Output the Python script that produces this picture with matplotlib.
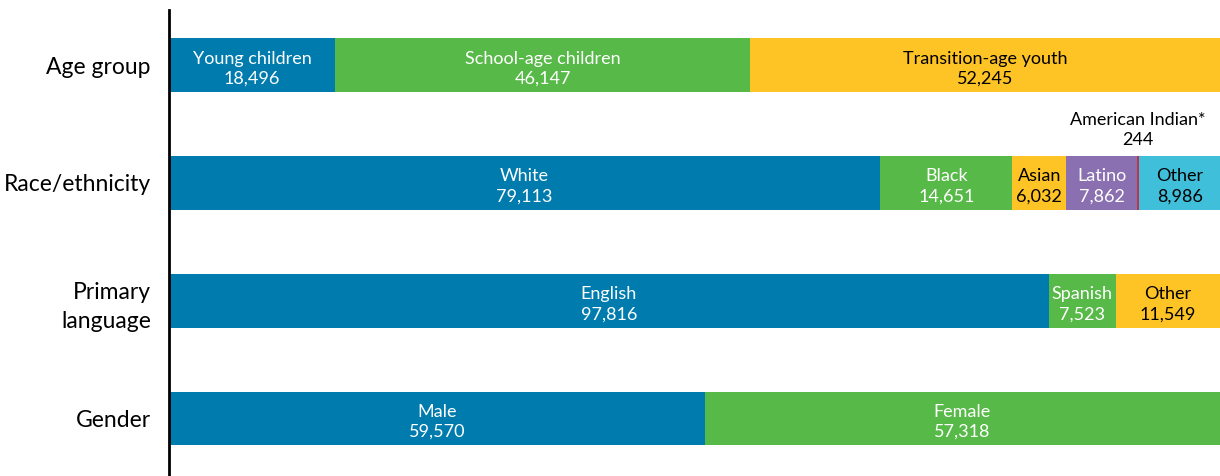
import matplotlib.pyplot as plt

rows = ["Age group", "Race/ethnicity", "Primary\nlanguage", "Gender"]

age_names = ["Young children", "School-age children", "Transition-age youth"]
age_vals = [18496, 46147, 52245]

race_names = ["White", "Black", "Asian", "Latino", "American Indian*", "Other"]
race_vals = [79113, 14651, 6032, 7862, 244, 8986]

lang_names = ["English", "Spanish", "Other"]
lang_vals = [97816, 7523, 11549]

gender_names = ["Male", "Female"]
gender_vals = [59570, 57318]

blue = "#007BAE"
green = "#57B947"
yellow = "#FEC325"
purple = "#8A70B0"
red = "#C0344A"
cyan = "#40BFDA"

data = [
    (age_names, age_vals, [blue, green, yellow]),
    (race_names, race_vals, [blue, green, yellow, purple, red, cyan]),
    (lang_names, lang_vals, [blue, green, yellow]),
    (gender_names, gender_vals, [blue, green]),
]
dark_text = {yellow, cyan}

plt.rcParams["font.family"] = ["Lato", "DejaVu Sans"]

fig = plt.figure(figsize=(12.2, 4.76), dpi=100)
ax = fig.add_axes([169 / 1220, 0, 1 - 169 / 1220, 466 / 476])

h = 0.458
for i, (names, vals, cols) in enumerate(data):
    left = 0
    for name, v, c in zip(names, vals, cols):
        ax.barh(i, v, left=left, height=h, color=c, edgecolor="none")
        mid = left + v / 2
        if name == "American Indian*":
            ax.text(mid, i - h / 2 - 0.07, f"{name}\n{v:,}", ha="center", va="bottom",
                    fontsize=13, color="black", linespacing=1.3)
        else:
            tc = "black" if c in dark_text else "white"
            ax.text(mid, i + 0.03, f"{name}\n{v:,}", ha="center", va="center",
                    fontsize=13, color=tc, linespacing=1.3)
        left += v

total = sum(age_vals)
ax.set_xlim(0, total)
ax.set_ylim(3.488, -0.467)
ax.set_yticks(range(len(rows)))
ax.set_yticklabels(rows, fontsize=16.5, linespacing=1.5)
ax.tick_params(axis="y", length=0, pad=13)
ax.set_xticks([])
for s in ["top", "right", "bottom"]:
    ax.spines[s].set_visible(False)
ax.spines["left"].set_linewidth(2)
ax.spines["left"].set_color("black")

fig.savefig("out.png", dpi=100)
